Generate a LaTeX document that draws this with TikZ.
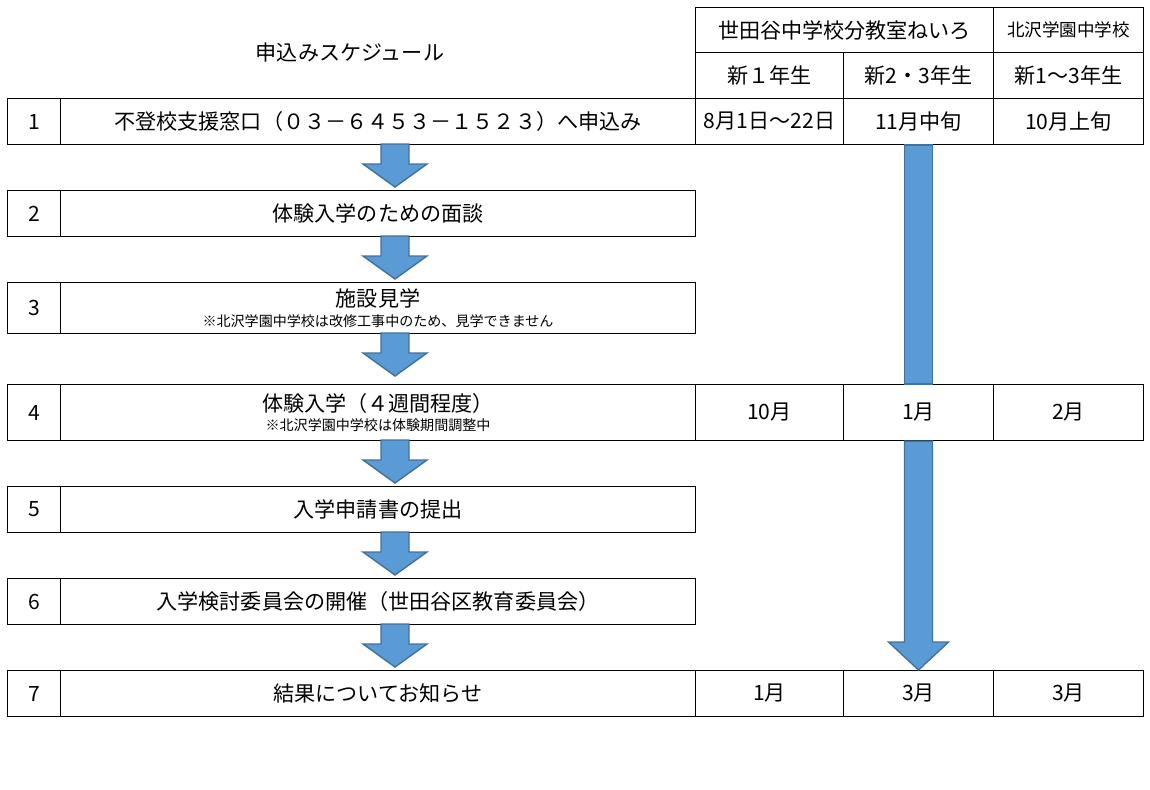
\documentclass[tikz,border=0pt]{standalone}
\usepackage{fontspec}
\setmainfont{Noto Sans CJK JP}
\usepackage{tikz}
\usetikzlibrary{calc}
\definecolor{arrowblue}{HTML}{5B9BD5}
\definecolor{arrowedge}{HTML}{41719C}
\tikzset{
  cell/.style={draw, line width=0.6pt, anchor=north west, inner sep=0pt, font=\fontsize{12}{14}\selectfont, align=center},
  note/.style={font=\fontsize{8}{9}\selectfont},
  downarrow/.style={fill=arrowblue, draw=arrowedge, line width=0.8pt, line join=miter}
}
% cell: name, left, top, right, bottom, text
\newcommand{\tcell}[6]{\node[cell, minimum width={(#4-#2)*0.02cm}, minimum height={(#5-#3)*0.02cm}] (#1) at (#2,#3) {#6};}
% small arrow centred at x, from top y
\newcommand{\smallarrow}[2]{\draw[downarrow] (#1-14,#2) -- (#1+14,#2) -- (#1+14,#2+20) -- (#1+32,#2+20) -- (#1,#2+43) -- (#1-32,#2+20) -- (#1-14,#2+20) -- cycle;}

\begin{document}
\begin{tikzpicture}[x=0.02cm, y=-0.02cm]
\useasboundingbox (0,0) rectangle (1150,789);

% header
\node[font=\fontsize{12}{14}\selectfont] (head) at (350,52) {申込みスケジュール};
\tcell{neiro}{695}{7}{993}{52}{世田谷中学校分教室ねいろ}
\tcell{kita}{993}{7}{1143}{52}{\fontsize{10}{12}\selectfont 北沢学園中学校}
\tcell{g1}{695}{52}{843}{98}{新１年生}
\tcell{g23}{843}{52}{993}{98}{新2・3年生}
\tcell{gk}{993}{52}{1143}{98}{新1～3年生}

% row 1
\tcell{n1}{7}{98}{60}{144}{1}
\tcell{s1}{60}{98}{695}{144}{不登校支援窓口（０３－６４５３－１５２３）へ申込み}
\tcell{a1}{695}{98}{843}{144}{8月1日～22日}
\tcell{b1}{843}{98}{993}{144}{11月中旬}
\tcell{c1}{993}{98}{1143}{144}{10月上旬}

% rows 2, 3
\tcell{n2}{7}{190}{60}{236}{2}
\tcell{s2}{60}{190}{695}{236}{体験入学のための面談}
\tcell{n3}{7}{282}{60}{333}{3}
\tcell{s3}{60}{282}{695}{333}{施設見学\\[-3pt]{\fontsize{8}{9}\selectfont ※北沢学園中学校は改修工事中のため、見学できません}}

% row 4
\tcell{n4}{7}{384}{60}{440}{4}
\tcell{s4}{60}{384}{695}{440}{体験入学（４週間程度）\\[-3pt]{\fontsize{8}{9}\selectfont ※北沢学園中学校は体験期間調整中}}
\tcell{a4}{695}{384}{843}{440}{10月}
\tcell{b4}{843}{384}{993}{440}{1月}
\tcell{c4}{993}{384}{1143}{440}{2月}

% rows 5, 6
\tcell{n5}{7}{486}{60}{532}{5}
\tcell{s5}{60}{486}{695}{532}{入学申請書の提出}
\tcell{n6}{7}{578}{60}{624}{6}
\tcell{s6}{60}{578}{695}{624}{入学検討委員会の開催（世田谷区教育委員会）}

% row 7
\tcell{n7}{7}{670}{60}{716}{7}
\tcell{s7}{60}{670}{695}{716}{結果についてお知らせ}
\tcell{a7}{695}{670}{843}{716}{1月}
\tcell{b7}{843}{670}{993}{716}{3月}
\tcell{c7}{993}{670}{1143}{716}{3月}

% small arrows
\foreach \y in {144,236,333,440,532,624} {\smallarrow{395}{\y}}

% long arrow
\draw[downarrow] ($(b1.south)+(-14,0)$) rectangle ($(b4.north)+(14,0)$);
\draw[downarrow] ($(b4.south)+(-14,0)$) -- ($(b4.south)+(14,0)$) -- ($(b7.north)+(14,-28)$) -- ($(b7.north)+(30,-28)$) -- (b7.north) -- ($(b7.north)+(-30,-28)$) -- ($(b7.north)+(-14,-28)$) -- cycle;
\end{tikzpicture}
\end{document}
